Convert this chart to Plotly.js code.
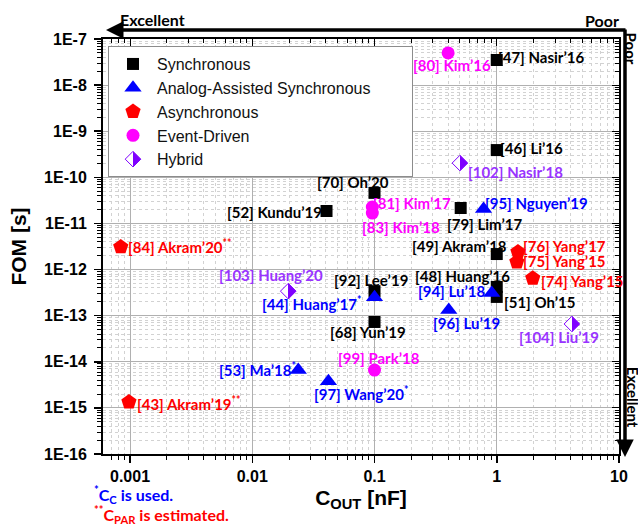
<!DOCTYPE html>
<html><head><meta charset="utf-8">
<script src="https://cdn.plot.ly/plotly-3.0.1.min.js"></script>
<style>html,body{margin:0;padding:0;background:#fff}</style>
</head><body><div id="chart" style="width:638px;height:527px"></div>
<script>
// ---------- data ----------
const seriesNames = ["Synchronous","Analog-Assisted Synchronous","Asynchronous","Event-Driven","Hybrid"];

const syncNames = ["[47] Nasir’16","[46] Li’16","[70] Oh’20","[52] Kundu’19","[79] Lim’17","[49] Akram’18","[48] Huang’16","[51] Oh’15","[92] Lee’19","[68] Yun’19"];
const syncX = [1.0, 1.0, 0.1, 0.0405, 0.507, 1.0, 1.0, 1.0, 0.1, 0.1];
const syncY = [3.5e-8, 3.9e-10, 4.6e-11, 1.86e-11, 2.16e-11, 2.17e-12, 4.2e-13, 2.55e-13, 3.4e-13, 7.3e-14];

const aasNames = ["[95] Nguyen’19","[44] Huang’17<sup>*</sup>","[94] Lu’18","[96] Lu’19","[53] Ma’18<sup>*</sup>","[97] Wang’20<sup>*</sup>"];
const aasX = [0.78, 0.1, 0.91, 0.405, 0.0238, 0.042];
const aasY = [2.05e-11, 2.5e-13, 3.1e-13, 1.32e-13, 6.6e-15, 3.8e-15];

const asyncNames = ["[84] Akram’20<sup>**</sup>","[43] Akram’19<sup>**</sup>","[76] Yang’17","[75] Yang’15","[74] Yang’15"];
const asyncX = [0.00084, 0.00098, 1.49, 1.46, 1.97];
const asyncY = [3.1e-12, 1.34e-15, 2.4e-12, 1.46e-12, 6.5e-13];

const evNames = ["[80] Kim’16","[81] Kim’17","[83] Kim’18","[99] Park’18"];
const evX = [0.40, 0.096, 0.096, 0.1];
const evY = [5.0e-8, 2.27e-11, 1.68e-11, 6.6e-15];

const hybNames = ["[102] Nasir’18","[103] Huang’20","[104] Liu’19"];
const hybX = [0.50, 0.0197, 4.12];
const hybY = [2.04e-10, 3.4e-13, 6.6e-14];

const xTickVals = [0.001, 0.01, 0.1, 1, 10];
const xTickText = ["0.001","0.01","0.1","1","10"];
const yTickVals = [1e-7,1e-8,1e-9,1e-10,1e-11,1e-12,1e-13,1e-14,1e-15,1e-16];
const yTickText = ["1E-7","1E-8","1E-9","1E-10","1E-11","1E-12","1E-13","1E-14","1E-15","1E-16"];

// ---------- label placement (anchor, xshift, yshift) ----------
const syncLab = [["left",-1,3],["left",1,2],["right",16,11],["right",-3,-1],["left",-16,-16],["right",12,8],["right",15,11],["left",5,-5],["center",-4,11],["center",-7,-10]];
const aasLab = [["left",-1,6],["right",-11,-6],["right",-5,2],["left",-18,-13],["right",0,1],["left",-16,-12]];
const asyncLab = [["left",5,0],["left",6,-1],["left",3,6],["left",4,1],["left",6,-3]];
const evLab = [["right",45,-12],["left",-1,4],["left",-12,-14],["center",4,12]];
const hybLab = [["left",6,-9],["center",-17,16],["center",-13,-13]];

const BLACK="#000000", BLUE="#0000FF", RED="#FF0000", MAG="#FF00FF", PURP="#9933FF", PURPF="#7F00FF";
const LBL_FONT = "Lato, 'Liberation Sans', sans-serif";
const AX_FONT = "'Liberation Sans', Arial, sans-serif";
const PAD = "\u00a0".repeat(8); // widens the legend box to match the reference

const traces = [
  {name:seriesNames[0], x:syncX, y:syncY, mode:"markers", type:"scatter",
   marker:{symbol:"square", size:12, color:BLACK}},
  {name:seriesNames[1] + PAD, x:aasX, y:aasY, mode:"markers", type:"scatter",
   marker:{symbol:"triangle-up", size:15, color:BLUE}},
  {name:seriesNames[2], x:asyncX, y:asyncY, mode:"markers", type:"scatter",
   marker:{symbol:"pentagon", size:16, color:RED}},
  {name:seriesNames[3], x:evX, y:evY, mode:"markers", type:"scatter",
   marker:{symbol:"circle", size:13, color:MAG}},
  {name:seriesNames[4], x:hybX, y:hybY, mode:"markers", type:"scatter",
   marker:{symbol:"diamond", size:12, color:"#ffffff", gradient:{type:"horizontal", color:PURPF},
           line:{color:PURPF, width:1}}},
  {x:[], y:[], xaxis:"x2", yaxis:"y2", showlegend:false, hoverinfo:"skip", type:"scatter"}
];

function makeLabels(names, xs, ys, lab, color){
  return names.map((t,i)=>({
    x:Math.log10(xs[i]), y:Math.log10(ys[i]), xref:"x", yref:"y", text:t, showarrow:false,
    xanchor:lab[i][0], yanchor:"middle", xshift:lab[i][1], yshift:lab[i][2],
    font:{family:LBL_FONT, size:15, color:color, weight:700}
  }));
}

const annotations = [].concat(
  makeLabels(syncNames, syncX, syncY, syncLab, BLACK),
  makeLabels(aasNames, aasX, aasY, aasLab, BLUE),
  makeLabels(asyncNames, asyncX, asyncY, asyncLab, RED),
  makeLabels(evNames, evX, evY, evLab, MAG),
  makeLabels(hybNames, hybX, hybY, hybLab, PURP)
);

// arrows and direction words
annotations.push(
  {xref:"paper", yref:"paper", x:0.0058, y:1.0217, ax:521, ay:0, text:"", showarrow:true,
   arrowhead:2, arrowsize:1, arrowwidth:3.5, arrowcolor:BLACK, standoff:0, startstandoff:0},
  {xref:"paper", yref:"paper", x:1.0116, y:-0.0072, ax:0, ay:-429, text:"", showarrow:true,
   arrowhead:2, arrowsize:1, arrowwidth:3.5, arrowcolor:BLACK, standoff:0, startstandoff:0},
  {xref:"paper", yref:"paper", x:0.029, y:1.048, xanchor:"left", yanchor:"middle", text:"Excellent", showarrow:false,
   font:{family:LBL_FONT, size:16, color:BLACK, weight:700}},
  {xref:"paper", yref:"paper", x:1.003, y:1.0434, xanchor:"right", yanchor:"middle", text:"Poor", showarrow:false,
   font:{family:LBL_FONT, size:16, color:BLACK, weight:700}},
  {xref:"paper", yref:"paper", x:1.024, y:0.976, xanchor:"center", yanchor:"middle", text:"Poor", textangle:90, showarrow:false,
   font:{family:LBL_FONT, size:15, color:BLACK, weight:700}},
  {xref:"paper", yref:"paper", x:1.026, y:0.137, xanchor:"center", yanchor:"middle", text:"Excellent", textangle:90, showarrow:false,
   font:{family:LBL_FONT, size:15, color:BLACK, weight:700}},
  {xref:"paper", yref:"paper", x:-0.021, y:-0.097, xanchor:"left", yanchor:"middle", text:"<sup>*</sup>C<sub>C</sub> is used.", showarrow:false,
   font:{family:LBL_FONT, size:16, color:BLUE, weight:700}},
  {xref:"paper", yref:"paper", x:-0.021, y:-0.145, xanchor:"left", yanchor:"middle", text:"<sup>**</sup>C<sub>PAR</sub> is estimated.", showarrow:false,
   font:{family:LBL_FONT, size:16, color:RED, weight:700}}
);

const minorGrid = {ticks:"outside", ticklen:4, tickwidth:1, tickcolor:BLACK, showgrid:true, gridcolor:"#d2d2d2", griddash:"dot", gridwidth:1, dtick:"D1"};

const layout = {
  width:638, height:527,
  margin:{l:103, r:19, t:39, b:73},
  paper_bgcolor:"#ffffff", plot_bgcolor:"#ffffff",
  showlegend:true,
  legend:{x:0.0097, y:0.983, xanchor:"left", yanchor:"top", bgcolor:"#ffffff", bordercolor:"#8c8c8c", borderwidth:1,
          font:{family:AX_FONT, size:16, color:"#111"}, tracegroupgap:0, itemwidth:38},
  xaxis:{type:"log", range:[-3.221, 1], tickmode:"array", tickvals:xTickVals, ticktext:xTickText,
         ticks:"outside", ticklen:7, tickwidth:1.5, tickcolor:BLACK,
         showline:true, linewidth:2, linecolor:BLACK, mirror:true,
         showgrid:true, gridcolor:"#b0b0b0", gridwidth:1, zeroline:false,
         tickfont:{family:AX_FONT, size:16, color:BLACK, weight:700},
         minor:minorGrid,
         title:{text:"C<sub>OUT</sub> [nF]", font:{family:AX_FONT, size:21, color:BLACK, weight:700}, standoff:6}},
  yaxis:{type:"log", range:[-16, -7], tickmode:"array", tickvals:yTickVals, ticktext:yTickText,
         ticks:"outside", ticklen:7, tickwidth:1.5, tickcolor:BLACK, ticklabelstandoff:4,
         showline:true, linewidth:2, linecolor:BLACK, mirror:true,
         showgrid:true, gridcolor:"#b0b0b0", gridwidth:1, zeroline:false,
         tickfont:{family:AX_FONT, size:16, color:BLACK, weight:700},
         minor:minorGrid,
         title:{text:"FOM [s]", font:{family:AX_FONT, size:21, color:BLACK, weight:700}, standoff:12}},
  xaxis2:{type:"log", range:[-3.221, 1], overlaying:"x", side:"top", anchor:"y", showgrid:false, zeroline:false,
          tickmode:"array", tickvals:xTickVals, ticks:"inside", ticklen:7, tickcolor:BLACK, showticklabels:false,
          minor:{ticks:"inside", ticklen:4, tickcolor:BLACK, dtick:"D1", showgrid:false}},
  yaxis2:{type:"log", range:[-16, -7], overlaying:"y", side:"right", anchor:"x", showgrid:false, zeroline:false,
          tickmode:"array", tickvals:yTickVals, ticks:"inside", ticklen:7, tickcolor:BLACK, showticklabels:false,
          minor:{ticks:"inside", ticklen:4, tickcolor:BLACK, dtick:"D1", showgrid:false}},
  annotations:annotations
};

// make the horizontal gradient of the Hybrid marker a hard half/half split
function splitGradients(){
  document.querySelectorAll("#chart linearGradient").forEach(g=>{
    const stops = Array.from(g.querySelectorAll("stop"));
    if(stops.length !== 2) return;
    stops.sort((a,b)=>parseFloat(a.getAttribute("offset"))-parseFloat(b.getAttribute("offset")));
    const s0 = stops[0], s1 = stops[1];
    const m0 = s0.cloneNode(true); m0.setAttribute("offset","50%");
    const m1 = s1.cloneNode(true); m1.setAttribute("offset","50%");
    g.insertBefore(m0, s1);
    g.insertBefore(m1, s1);
  });
}

Plotly.newPlot("chart", traces, layout, {staticPlot:true, displayModeBar:false}).then(splitGradients);
</script>
</body></html>
